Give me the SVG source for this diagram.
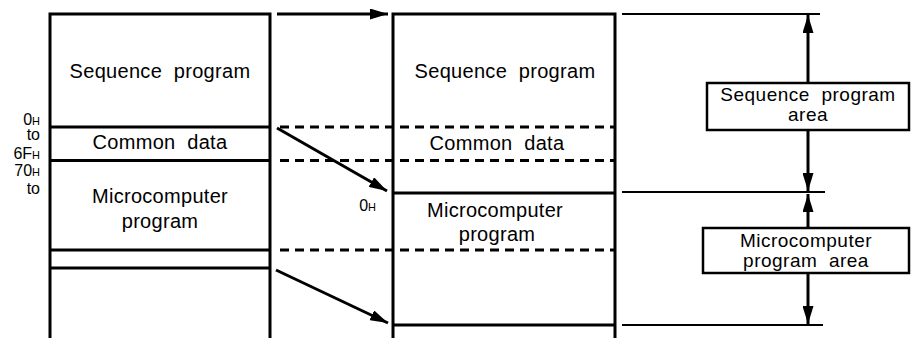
<svg xmlns="http://www.w3.org/2000/svg" width="911" height="338" viewBox="0 0 911 338">
<defs>
<marker id="ah" viewBox="0 0 18 11" refX="18" refY="5.5" markerWidth="18" markerHeight="11" markerUnits="userSpaceOnUse" orient="auto">
<path d="M0,0 L18,5.5 L0,11 Z" fill="#000"/>
</marker>
</defs>
<style>
.ln{stroke:#000;stroke-width:3;fill:none}
.thin{stroke:#000;stroke-width:2;fill:none}
.dash{stroke:#000;stroke-width:3;fill:none;stroke-dasharray:9,6}
.t{font-family:"Liberation Sans",Arial,sans-serif;font-size:20px;fill:#000;text-anchor:middle;white-space:pre;letter-spacing:0.3px}
.bt{font-size:19px;letter-spacing:0.5px}
.lab{font-family:"Liberation Sans",Arial,sans-serif;font-size:16px;fill:#000;text-anchor:end}
.sub{font-size:11px}
.box{fill:#fff;stroke:#000;stroke-width:2.5}
</style>
<rect width="911" height="338" fill="#fff"/>

<g id="left-memory">
<path class="ln" d="M50,338 V14 H270 V338"/>
<path class="ln" d="M50,127 H270 M50,160.5 H270 M50,250 H270 M50,268 H270"/>
<text class="t" x="160" y="78">Sequence  program</text>
<text class="t" x="160" y="149">Common  data</text>
<text class="t" x="160" y="203">Microcomputer</text>
<text class="t" x="160" y="228">program</text>
</g>

<g id="address-labels">
<text class="lab" x="40" y="125">0<tspan class="sub">H</tspan></text>
<text class="lab" x="40" y="140">to</text>
<text class="lab" x="40" y="159">6F<tspan class="sub">H</tspan></text>
<text class="lab" x="40" y="176">70<tspan class="sub">H</tspan></text>
<text class="lab" x="40" y="194">to</text>
</g>

<g id="right-memory">
<path class="ln" d="M393,338 V14 H615 V338"/>
<path class="ln" d="M393,193 H615 M393,325 H615"/>
<text class="t" x="505" y="78">Sequence  program</text>
<text class="t" x="497" y="150">Common  data</text>
<text class="t" x="495" y="217">Microcomputer</text>
<text class="t" x="497" y="241">program</text>
<text class="lab" x="376" y="211">0<tspan class="sub">H</tspan></text>
</g>

<g id="area-seq">
<rect class="box" x="707" y="83" width="202" height="47"/>
<text class="t bt" x="808" y="101">Sequence  program</text>
<text class="t bt" x="808" y="121">area</text>
</g>

<g id="area-micro">
<rect class="box" x="703" y="228" width="206" height="45"/>
<text class="t bt" x="806" y="247">Microcomputer</text>
<text class="t bt" x="806" y="267">program  area</text>
</g>

<g id="connectors">
<path class="dash" d="M280,127 H615 M280,160.5 H615 M280,250 H615"/>
<line class="ln" x1="277" y1="14" x2="388" y2="14" marker-end="url(#ah)"/>
<line class="ln" x1="277" y1="128" x2="387" y2="191" marker-end="url(#ah)"/>
<line class="ln" x1="276" y1="270" x2="388" y2="323" marker-end="url(#ah)"/>
<path class="thin" d="M622,14 H820 M622,192 H825 M622,325 H823"/>
<line class="ln" x1="808" y1="83" x2="808" y2="15" marker-end="url(#ah)"/>
<line class="ln" x1="808" y1="130" x2="808" y2="191" marker-end="url(#ah)"/>
<line class="ln" x1="808" y1="228" x2="808" y2="194" marker-end="url(#ah)"/>
<line class="ln" x1="808" y1="273" x2="808" y2="324" marker-end="url(#ah)"/>
</g>
</svg>
